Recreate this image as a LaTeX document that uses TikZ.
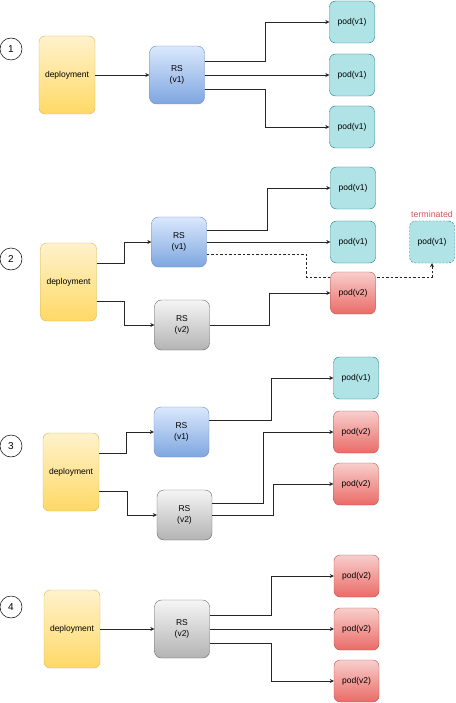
\documentclass[tikz,border=0pt]{standalone}
\usepackage{fontspec}
\setmainfont{Liberation Sans}
\usepackage{tikz}
\usetikzlibrary{arrows.meta,positioning}
\definecolor{dpTop}{HTML}{FFF2CC}
\definecolor{dpBot}{HTML}{FFD966}
\definecolor{dpLine}{HTML}{D6B656}
\definecolor{rsATop}{HTML}{DAE8FC}
\definecolor{rsABot}{HTML}{7EA6E0}
\definecolor{rsALine}{HTML}{6C8EBF}
\definecolor{rsBTop}{HTML}{F5F5F5}
\definecolor{rsBBot}{HTML}{B3B3B3}
\definecolor{rsBLine}{HTML}{666666}
\definecolor{podA}{HTML}{B0E3E6}
\definecolor{podALine}{HTML}{0E8088}
\definecolor{podBTop}{HTML}{F8CECC}
\definecolor{podBBot}{HTML}{EA6B66}
\definecolor{podBLine}{HTML}{B85450}
\definecolor{termred}{HTML}{CC5555}
\begin{document}
\begin{tikzpicture}[x=1pt,y=-1pt,
  every node/.style={font=\fontsize{8.5}{11}\selectfont,align=center,inner sep=0pt},
  numcirc/.style={circle,draw,line width=0.5pt,minimum size=22pt,font=\fontsize{10}{12}\selectfont},
  deploybox/.style={draw=dpLine,rounded corners=6pt,top color=dpTop,bottom color=dpBot,minimum width=56pt,minimum height=78pt},
  rsbase/.style={rounded corners=7pt,minimum width=55pt,minimum height=50pt},
  rsone/.style={rsbase,draw=rsALine,top color=rsATop,bottom color=rsABot},
  rstwo/.style={rsbase,draw=rsBLine,top color=rsBTop,bottom color=rsBBot},
  podbase/.style={rounded corners=6pt,minimum width=45pt,minimum height=42pt},
  podone/.style={podbase,draw=podALine,fill=podA},
  podtwo/.style={podbase,draw=podBLine,top color=podBTop,bottom color=podBBot},
  podgone/.style={podone,dash pattern=on 2pt off 1.5pt},
  arr/.style={-{Stealth[length=4pt,width=4pt]},line width=0.6pt,black!85},
  dots/.style={dash pattern=on 2.5pt off 2pt}]
\useasboundingbox (0,0) rectangle (455,703);

\node[numcirc] (n1) at (11,49) {1};
\node[deploybox] (d1) at (67,75) {deployment};
\node[rsone,minimum height=58pt] (r1) at (177,75) {RS\\(v1)};
\node[podone] (p1a) at (352,22) {pod(v1)};
\node[podone] (p1b) at (352,75) {pod(v1)};
\node[podone] (p1c) at (352,127) {pod(v1)};
\draw[arr] (d1) -- (r1);
\draw[arr] ([yshift=14pt]r1.east) -- ++(61,0) |- (p1a);
\draw[arr] (r1) -- (p1b);
\draw[arr] ([yshift=-14pt]r1.east) -- ++(61,0) |- (p1c);

\node[numcirc] (n2) at (11,259) {2};
\node[deploybox] (d2) at (68.5,282) {deployment};
\node[rsone] (r2a) at (179,242) {RS\\(v1)};
\node[rstwo] (r2b) at (182,325) {RS\\(v2)};
\node[podone] (p2a) at (353,188) {pod(v1)};
\node[podone] (p2b) at (353,242) {pod(v1)};
\node[podgone] (gone) at (432,242) {pod(v1)};
\node[text=termred,font=\fontsize{8.8}{11}\selectfont,above=3pt of gone] (gonelbl) {terminated};
\draw[arr,dots] ([yshift=-12pt]r2a.east) -| ++(100,23) -| (gone.south);
\node[podtwo] (p2c) at (353,293) {pod(v2)};
\draw[arr] ([yshift=19pt]d2.east) -- ++(28,0) |- (r2a);
\draw[arr] ([yshift=-19pt]d2.east) -- ++(28,0) |- (r2b);
\draw[arr] ([yshift=12pt]r2a.east) -- ++(61,0) |- (p2a);
\draw[arr] (r2a) -- (p2b);
\draw[arr] (r2b.east) -- ++(60,0) |- (p2c);

\node[numcirc] (n3) at (11,446) {3};
\node[deploybox] (d3) at (71,472) {deployment};
\node[rsone] (r3a) at (181.5,432) {RS\\(v1)};
\node[rstwo] (r3b) at (184.5,515) {RS\\(v2)};
\node[podone] (p3a) at (356,378) {pod(v1)};
\node[podtwo] (p3b) at (356,432) {pod(v2)};
\node[podtwo] (p3c) at (356,484) {pod(v2)};
\draw[arr] ([yshift=19pt]d3.east) -- ++(27,0) |- (r3a);
\draw[arr] ([yshift=-19pt]d3.east) -- ++(28,0) |- (r3b);
\draw[arr] ([yshift=12pt]r3a.east) -- ++(62,0) |- (p3a);
\draw[arr] ([yshift=12pt]r3b.east) -- ++(51,0) |- (p3b);
\draw[arr] (r3b.east) -- ++(61,0) |- (p3c);

\node[numcirc] (n4) at (11,607) {4};
\node[deploybox] (d4) at (72,629) {deployment};
\node[rstwo,minimum height=58pt] (r4) at (182,629) {RS\\(v2)};
\node[podtwo] (p4a) at (356.5,576) {pod(v2)};
\node[podtwo] (p4b) at (356.5,629) {pod(v2)};
\node[podtwo] (p4c) at (356.5,681) {pod(v2)};
\draw[arr] (d4) -- (r4);
\draw[arr] ([yshift=14pt]r4.east) -- ++(62,0) |- (p4a);
\draw[arr] (r4) -- (p4b);
\draw[arr] ([yshift=-14pt]r4.east) -- ++(62,0) |- (p4c);
\end{tikzpicture}
\end{document}
